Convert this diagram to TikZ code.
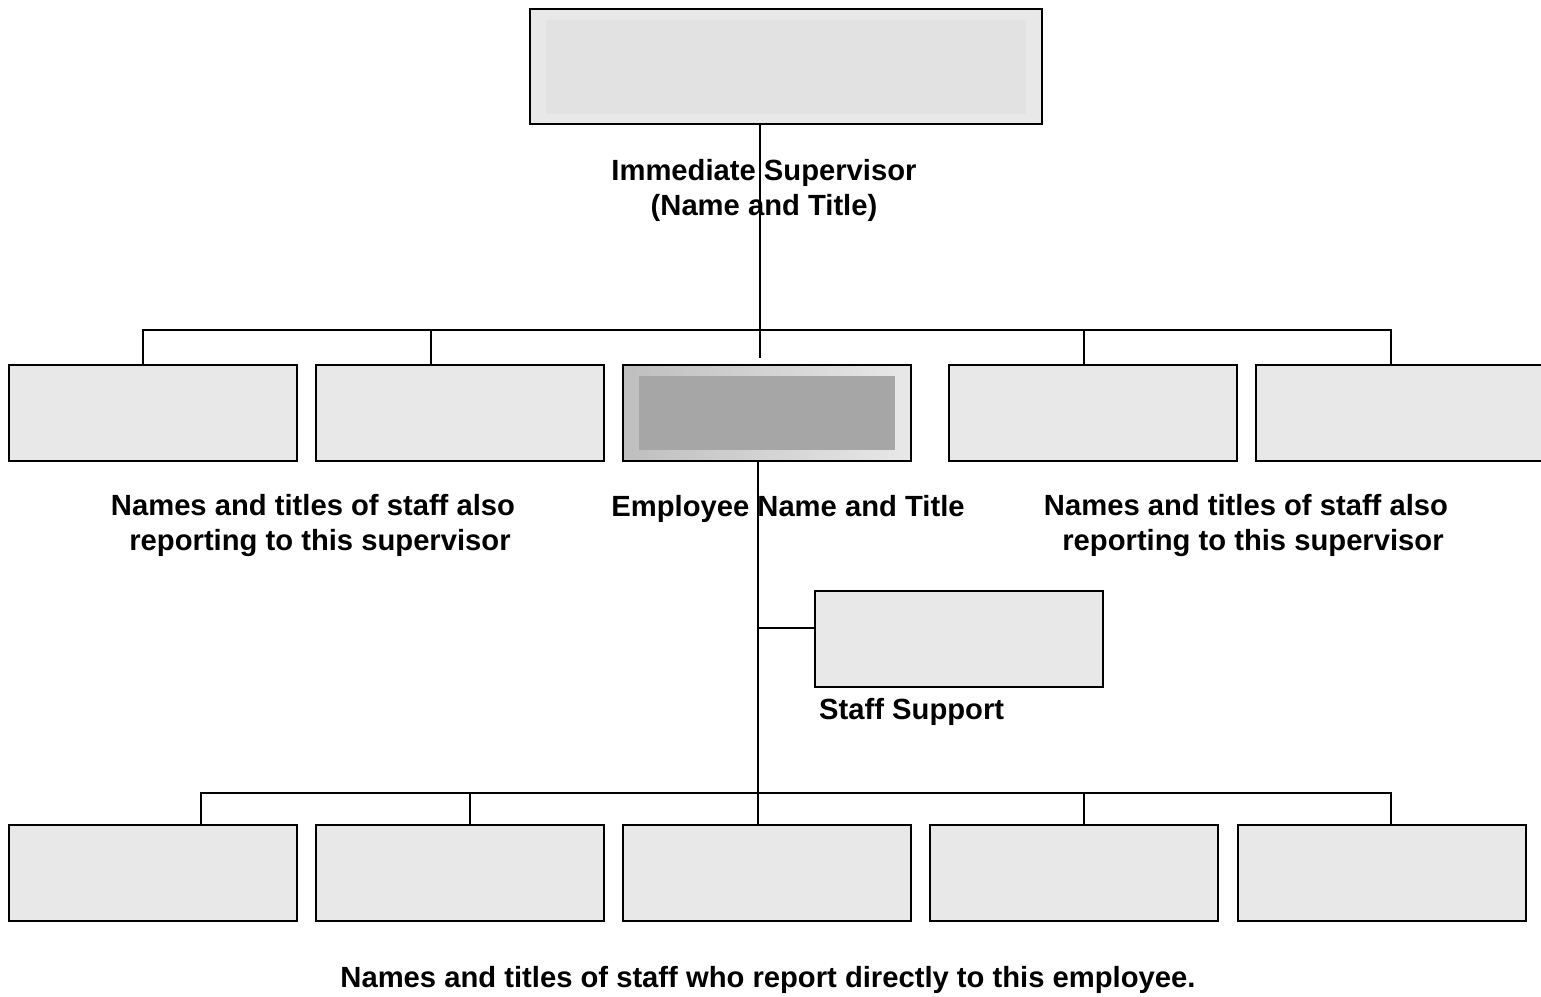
\documentclass[tikz,border=0pt]{standalone}
\usepackage{fontspec}
\setmainfont{Liberation Sans}
\definecolor{boxgray}{HTML}{E8E8E8}
\definecolor{innergray}{HTML}{E2E2E2}
\definecolor{empinner}{HTML}{A6A6A6}
\definecolor{empleft}{HTML}{BEBEBE}
\definecolor{empright}{HTML}{E8E8E8}
\begin{document}
\begin{tikzpicture}[x=1pt,y=-1pt,
  box/.style={draw=black,line width=2.4pt,fill=boxgray,minimum width=288pt,minimum height=96pt,inner sep=0pt,outer sep=0pt},
  conn/.style={draw=black,line width=2pt},
  lbl/.style={font=\bfseries\fontsize{29.2}{35}\selectfont,align=center,inner sep=0pt}]
\useasboundingbox (0,0) rectangle (1541,996);

% boxes
\node[box,minimum width=512pt,minimum height=115pt,line width=2.8pt] (sup) at (786,66.5) {};
\fill[innergray] ([xshift=16pt,yshift=-11pt]sup.north west) rectangle ([xshift=-16pt,yshift=10pt]sup.south east);

\node[box] (b1) at (153,413) {};
\node[box] (b2) at (460,413) {};
\node[box,left color=empleft,right color=empright] (emp) at (767,413) {};
\fill[empinner] ([xshift=16pt,yshift=-11pt]emp.north west) rectangle ([xshift=-16pt,yshift=11pt]emp.south east);
\node[box] (b4) at (1093,413) {};
\node[box] (b5) at (1400,413) {};

\node[box,line width=2pt] (staff) at (959,639) {};

\node[box] (c1) at (153,873) {};
\node[box] (c2) at (460,873) {};
\node[box] (c3) at (767,873) {};
\node[box] (c4) at (1074,873) {};
\node[box] (c5) at (1382,873) {};

% labels
\node[lbl] (supl) at (764,190) {Immediate Supervisor\\(Name and Title)};
\node[lbl] (leftl) at (313,526) {Names and titles of staff also\\\hspace*{14pt}reporting to this supervisor};
\node[lbl] (empl) at (788,509) {Employee Name and Title};
\node[lbl] (rightl) at (1246,526) {Names and titles of staff also\\\hspace*{14pt}reporting to this supervisor};
\node[lbl,anchor=west] (staffl) at (819,712) {Staff Support};
\node[lbl] (botl) at (768,980) {Names and titles of staff who report directly to this employee.};

% connectors: supervisor to employee row
\coordinate (j1) at (760,330);
\coordinate (e1) at (760,358);
\draw[conn] (j1 |- sup.south) -- (e1);
\coordinate (t1) at (143,330);
\coordinate (t2) at (431,330);
\coordinate (t4) at (1084,330);
\coordinate (t5) at (1391,330);
\draw[conn] (t1 |- b1.north) -- (t1) -- (t5) -- (t5 |- b5.north);
\draw[conn] (t2) -- (t2 |- b2.north);
\draw[conn] (t4) -- (t4 |- b4.north);

% employee down
\coordinate (m) at (758,628);
\draw[conn] (m |- emp.south) -- (m |- c3.north);
\draw[conn] (m) -- (m -| staff.west);

% bottom bar
\coordinate (u1) at (201,793);
\coordinate (u2) at (470,793);
\coordinate (u4) at (1084,793);
\coordinate (u5) at (1391,793);
\draw[conn] (u1 |- c1.north) -- (u1) -- (u5) -- (u5 |- c5.north);
\draw[conn] (u2) -- (u2 |- c2.north);
\draw[conn] (u4) -- (u4 |- c4.north);
\end{tikzpicture}
\end{document}
